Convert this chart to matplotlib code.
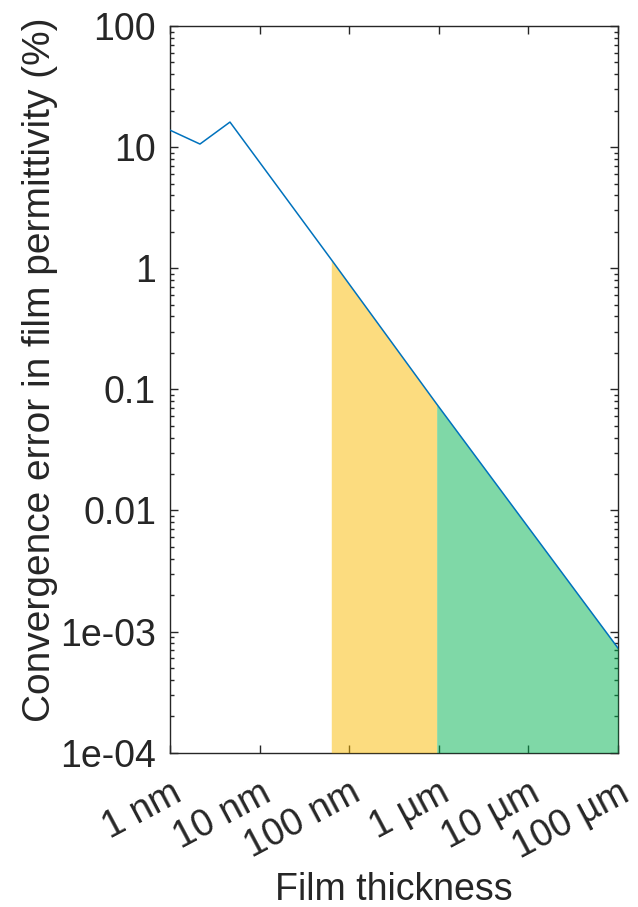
import matplotlib
matplotlib.use('Agg')
import matplotlib.pyplot as plt
from matplotlib.ticker import LogLocator, NullFormatter

# film thickness (nm) and convergence error (%)
thickness_nm = [1, 2.16, 4.67, 63.1, 947, 1e5]
error_pct = [13.8, 10.6, 16.1, 1.18, 0.0757, 7.3e-4]

# shaded regions
yellow_x = [63.1, 947]
yellow_y = [1.18, 0.0757]
green_x = [947, 1e5]
green_y = [0.0757, 7.3e-4]

xtick_vals = [1, 10, 100, 1e3, 1e4, 1e5]
xtick_labels = ['1 nm', '10 nm', '100 nm', '1 µm', '10 µm', '100 µm']
ytick_vals = [1e2, 1e1, 1, 0.1, 0.01, 1e-3, 1e-4]
ytick_labels = ['100', '10', '1', '0.1', '0.01', '1e-03', '1e-04']

plt.rcParams['font.family'] = ['Liberation Sans', 'DejaVu Sans']
dark = '#262626'

fig = plt.figure(figsize=(6.38, 9.07), dpi=100)
ax = fig.add_axes([170/638, 1 - 752.7/907, 448/638, 726.7/907])

ax.fill_between(yellow_x, yellow_y, 1e-4, color='#FBBB01', alpha=0.5,
                linewidth=0, zorder=3)
ax.fill_between(green_x, green_y, 1e-4, color='#01B351', alpha=0.5,
                linewidth=0, zorder=3)
ax.plot(thickness_nm, error_pct, color='#0072BD', lw=1.1, zorder=4)

ax.set_xscale('log')
ax.set_yscale('log')
ax.set_xlim(1, 1e5)
ax.set_ylim(1e-4, 100)

ax.set_xticks(xtick_vals)
ax.set_xticklabels(xtick_labels, rotation=28, ha='right', va='top',
                   rotation_mode='anchor')
ax.set_yticks(ytick_vals)
ax.set_yticklabels(ytick_labels)
ax.xaxis.set_minor_locator(LogLocator(base=10, subs=range(2, 10)))
ax.yaxis.set_minor_locator(LogLocator(base=10, subs=range(2, 10)))
ax.xaxis.set_minor_formatter(NullFormatter())
ax.yaxis.set_minor_formatter(NullFormatter())

ax.tick_params(which='both', direction='in', top=True, right=True,
               color=dark, labelcolor=dark, labelsize=27)
ax.tick_params(which='major', length=6, width=1.0)
ax.tick_params(which='minor', length=3, width=1.0)
ax.tick_params(axis='y', pad=10)
ax.tick_params(axis='x', pad=16)
for s in ax.spines.values():
    s.set_color(dark)
    s.set_linewidth(1.0)

# axis titles placed by hand so they stay inside the canvas
fig.text(394/638, 1 - 900/907, 'Film thickness', fontsize=27, color=dark,
         ha='center', va='baseline')
fig.text(40/638, 1 - 370/907, 'Convergence error in film permittivity (%)',
         fontsize=28, color=dark, rotation=90, ha='center', va='center')

fig.savefig('out.png', dpi=100)
